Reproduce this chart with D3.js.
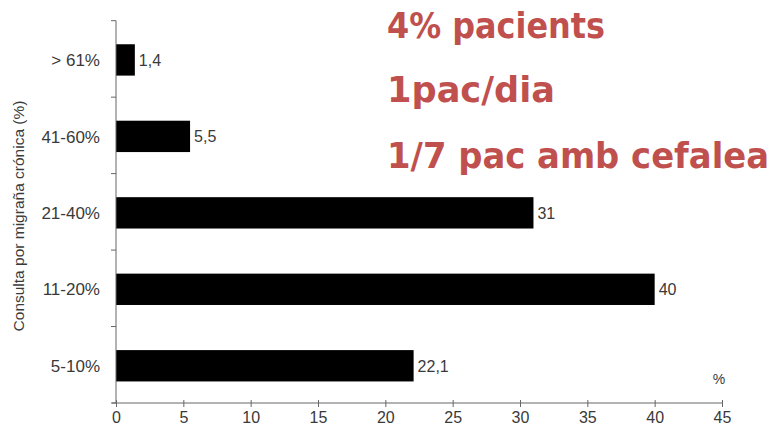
<!DOCTYPE html>
<html>
<head>
<meta charset="utf-8">
<script src="https://cdn.jsdelivr.net/npm/d3@7"></script>
<style>
  html, body { margin: 0; padding: 0; background: #fff; }
  svg { display: block; }
</style>
</head>
<body>
<svg id="chart" width="776" height="433"></svg>
<script>
// Share of consultations for chronic migraine, by group (%)
const categories = ["> 61%", "41-60%", "21-40%", "11-20%", "5-10%"];
const values = [1.4, 5.5, 31, 40, 22.1];
const valueLabels = ["1,4", "5,5", "31", "40", "22,1"];
const xTicks = [0, 5, 10, 15, 20, 25, 30, 35, 40, 45];
const notes = ["4% pacients", "1pac/dia", "1/7 pac amb cefalea"];

const svg = d3.select("#chart");
const axisColor = "#666";
const textColor = "#3a3a3a";
const font = "'Liberation Sans', Arial, sans-serif";

const x = d3.scaleLinear().domain([0, 45]).range([116, 722]);
const y = d3.scaleBand().domain(categories).range([20.7, 403]).paddingInner(0).paddingOuter(0);
const barH = y.bandwidth() * 0.41;

// bars
svg.append("g").selectAll("rect")
  .data(categories)
  .join("rect")
  .attr("x", x(0))
  .attr("y", (d) => y(d) + y.bandwidth() / 2 - barH / 2 + 1)
  .attr("width", (d, i) => x(values[i]) - x(0))
  .attr("height", barH)
  .attr("fill", "#000");

// value labels
svg.append("g").selectAll("text")
  .data(categories)
  .join("text")
  .attr("x", (d, i) => x(values[i]) + 4)
  .attr("y", (d) => y(d) + y.bandwidth() / 2 + 1)
  .attr("dy", "0.36em")
  .attr("font-family", font)
  .attr("font-size", 16)
  .attr("fill", textColor)
  .text((d, i) => valueLabels[i]);

// x axis
const xAxis = svg.append("g")
  .attr("transform", "translate(0,403)")
  .call(d3.axisBottom(x).tickValues(xTicks).tickSize(5).tickSizeOuter(0).tickFormat(d3.format("d")));
xAxis.select(".domain").attr("stroke", axisColor).attr("d", `M${x(0) - 4},0H${x(45)}`);
xAxis.selectAll(".tick line").attr("stroke", axisColor).attr("y1", -3).attr("y2", 4);
xAxis.selectAll(".tick text")
  .attr("font-family", font)
  .attr("font-size", 16)
  .attr("fill", textColor)
  .attr("y", 9);

// y axis: line with ticks at the band edges, labels centred on bands
const yAxis = svg.append("g");
yAxis.append("line")
  .attr("x1", x(0)).attr("x2", x(0))
  .attr("y1", y.range()[0]).attr("y2", y.range()[1])
  .attr("stroke", axisColor);
const edges = categories.map((d) => y(d)).concat([y.range()[1]]);
yAxis.selectAll("line.edge")
  .data(edges)
  .join("line")
  .attr("class", "edge")
  .attr("x1", x(0) - 5).attr("x2", x(0))
  .attr("y1", (d) => d).attr("y2", (d) => d)
  .attr("stroke", axisColor);
yAxis.selectAll("text")
  .data(categories)
  .join("text")
  .attr("x", 100)
  .attr("y", (d) => y(d) + y.bandwidth() / 2 + 1)
  .attr("dy", "0.36em")
  .attr("text-anchor", "end")
  .attr("font-family", font)
  .attr("font-size", 17)
  .attr("fill", textColor)
  .text((d) => d);

// y axis title
svg.append("text")
  .attr("transform", "translate(24,216) rotate(-90)")
  .attr("text-anchor", "middle")
  .attr("font-family", font)
  .attr("font-size", 15.5)
  .attr("fill", textColor)
  .text("Consulta por migraña crónica (%)");

// unit label
svg.append("text")
  .attr("x", 719)
  .attr("y", 384)
  .attr("text-anchor", "middle")
  .attr("font-family", font)
  .attr("font-size", 14)
  .attr("fill", textColor)
  .text("%");

// annotations, slightly stretched vertically to keep the wide lines inside the frame
const noteY = [38, 102, 168];
const noteW = [218, 168, 382];
svg.append("g").selectAll("text")
  .data(notes)
  .join("text")
  .attr("transform", (d, i) => `translate(387,${noteY[i]}) scale(1,1.07)`)
  .attr("x", 0)
  .attr("y", 0)
  .attr("font-family", "'DejaVu Sans', sans-serif")
  .attr("font-weight", "bold")
  .attr("font-size", 33)
  .attr("fill", "#c0504d")
  .attr("textLength", (d, i) => noteW[i])
  .attr("lengthAdjust", "spacingAndGlyphs")
  .text((d) => d);
</script>
</body>
</html>
